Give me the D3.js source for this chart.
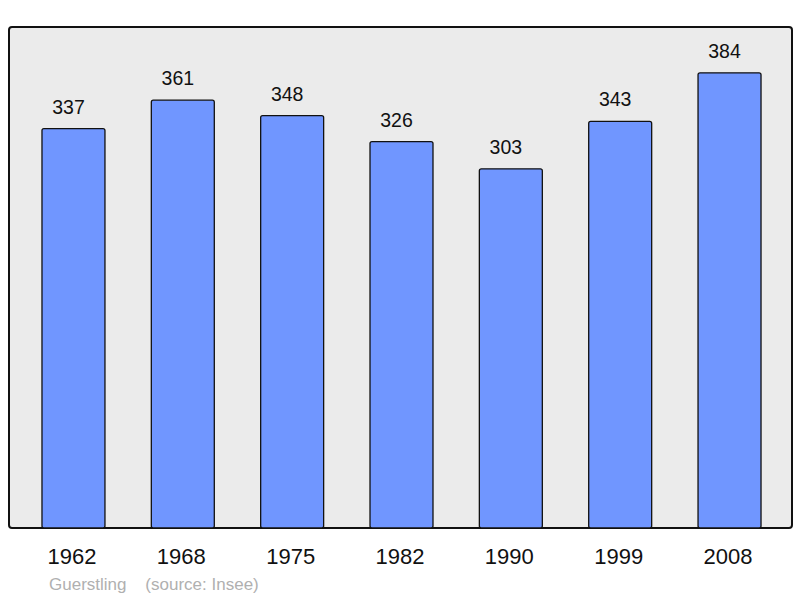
<!DOCTYPE html>
<html>
<head>
    <meta charset="utf-8">
    <script src="https://d3js.org/d3.v7.min.js"></script>
    <style>
        html, body { margin: 0; padding: 0; background: #fff; }
        svg { display: block; font-family: "Liberation Sans", Arial, sans-serif; }
    </style>
</head>
<body>
    <svg id="chart" width="800" height="598"></svg>
    <script>
        // Données
        const years = ["1962", "1968", "1975", "1982", "1990", "1999", "2008"];
        const population = [337, 361, 348, 326, 303, 343, 384];
        const commune = "Guerstling";
        const source = "(source: Insee)";

        const svg = d3.select("#chart");

        // Cadre
        const panel = { x0: 9, y0: 27, x1: 792, y1: 528 };

        svg.append("rect")
            .attr("x", panel.x0)
            .attr("y", panel.y0)
            .attr("width", panel.x1 - panel.x0)
            .attr("height", panel.y1 - panel.y0)
            .attr("rx", 3)
            .attr("fill", "#ebebeb")
            .attr("stroke", "#111")
            .attr("stroke-width", 2);

        // Echelles
        const x = d3.scaleBand()
            .domain(years)
            .range([18.8, 784.2])
            .paddingInner(0.424)
            .paddingOuter(0.212);

        const y = d3.scaleLinear()
            .domain([0, 422.7])
            .range([panel.y1, panel.y0]);

        // Barres
        svg.append("g")
            .selectAll("rect")
            .data(population)
            .join("rect")
            .attr("x", (d, i) => x(years[i]))
            .attr("y", d => y(d))
            .attr("width", x.bandwidth())
            .attr("height", d => y(0) - y(d))
            .attr("rx", 2)
            .attr("fill", "#7096ff")
            .attr("stroke", "#111")
            .attr("stroke-width", 1.3);

        // Valeurs
        svg.append("g")
            .selectAll("text")
            .data(population)
            .join("text")
            .attr("x", (d, i) => x(years[i]) + x.bandwidth() / 2 - 5)
            .attr("y", d => y(d) - 15)
            .attr("text-anchor", "middle")
            .attr("font-size", 19.5)
            .attr("fill", "#111")
            .text(d => d);

        // Années
        svg.append("g")
            .selectAll("text")
            .data(years)
            .join("text")
            .attr("x", d => x(d) + x.bandwidth() / 2 - 1.5)
            .attr("y", 564)
            .attr("text-anchor", "middle")
            .attr("font-size", 22)
            .attr("fill", "#111")
            .text(d => d);

        // Pied
        svg.append("text")
            .attr("x", 49)
            .attr("y", 590)
            .attr("font-size", 17)
            .attr("fill", "#b0b0b0")
            .attr("xml:space", "preserve")
            .style("white-space", "pre")
            .text(commune + "    " + source);
    </script>
</body>
</html>
